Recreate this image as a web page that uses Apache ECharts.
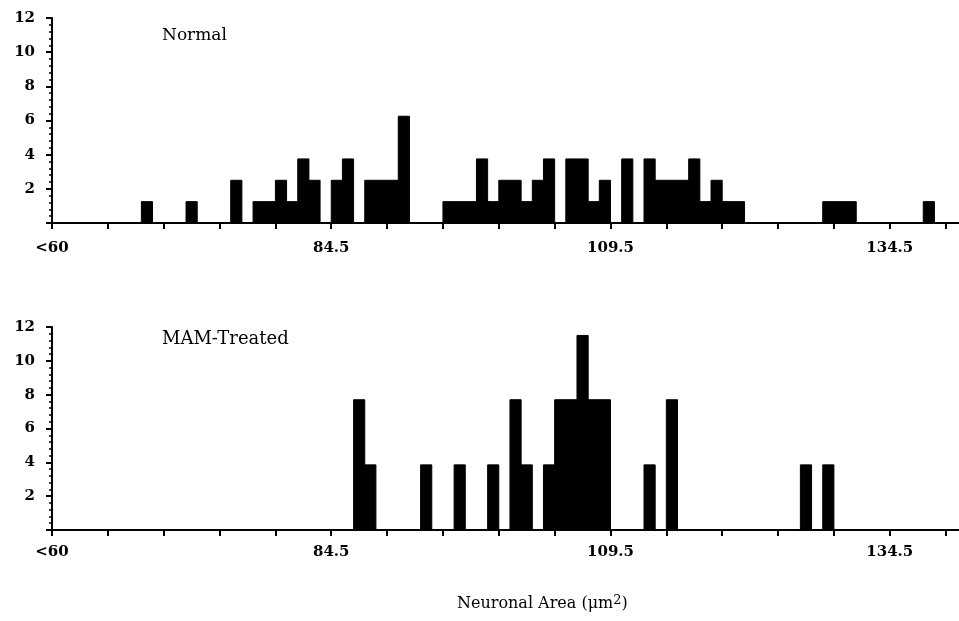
<!DOCTYPE html>
<html>
<head>
<meta charset="utf-8">
<script src="https://cdn.jsdelivr.net/npm/echarts@6/dist/echarts.min.js"></script>
<style>
  html, body { margin: 0; padding: 0; background: #fff; }
  #chart { width: 959px; height: 621px; }
</style>
</head>
<body>
<div id="chart"></div>
<script>
// bin centres (µm², 1 µm² wide bins) and percent of neurons per bin
const normalBins = [68, 72, 76, 78, 79, 80, 81, 82, 83, 85, 86, 88, 89, 90, 91,
  95, 96, 97, 98, 99, 100, 101, 102, 103, 104, 106, 107, 108, 109, 111,
  113, 114, 115, 116, 117, 118, 119, 120, 121, 129, 130, 131, 138];
const normalPct = [1.25, 1.25, 2.5, 1.25, 1.25, 2.5, 1.25, 3.75, 2.5, 2.5, 3.75, 2.5, 2.5, 2.5, 6.25,
  1.25, 1.25, 1.25, 3.75, 1.25, 2.5, 2.5, 1.25, 2.5, 3.75, 3.75, 3.75, 1.25, 2.5, 3.75,
  3.75, 2.5, 2.5, 2.5, 3.75, 1.25, 2.5, 1.25, 1.25, 1.25, 1.25, 1.25, 1.25];

const mamBins = [87, 88, 93, 96, 99, 101, 102, 104, 105, 106, 107, 108, 109, 113, 115, 127, 129];
const mamPct = [7.7, 3.85, 3.85, 3.85, 3.85, 7.7, 3.85, 3.85, 7.7, 7.7, 11.5, 7.7, 7.7, 3.85, 7.7, 3.85, 3.85];

const xTicks = [59.5, 64.5, 69.5, 74.5, 79.5, 84.5, 89.5, 94.5, 99.5, 104.5,
  109.5, 114.5, 119.5, 124.5, 129.5, 134.5, 139.5];
const xLabelValues = [59.5, 84.5, 109.5, 134.5];
const xLabelTexts = ["<60", "84.5", "109.5", "134.5"];
const BIN_WIDTH = 1;

const FONT = "DejaVu Serif";

const chart = echarts.init(document.getElementById("chart"));

function renderBin(params, api) {
  const x = api.value(0);
  const y = api.value(1);
  const topLeft = api.coord([x - BIN_WIDTH / 2, y]);
  const bottomRight = api.coord([x + BIN_WIDTH / 2, 0]);
  return {
    type: "rect",
    shape: {
      x: topLeft[0],
      y: topLeft[1],
      width: bottomRight[0] - topLeft[0],
      height: bottomRight[1] - topLeft[1],
    },
    style: { fill: "#000", stroke: "#000", lineWidth: 1 },
  };
}

const makeX = (gridIndex, labelMargin) => ({
  type: "value",
  gridIndex: gridIndex,
  min: 59.5,
  max: 140.7,
  splitLine: { show: false },
  axisLine: { show: true, lineStyle: { color: "#000", width: 2 } },
  axisTick: {
    show: true,
    customValues: xTicks,
    length: 6,
    lineStyle: { color: "#000", width: 2 },
  },
  axisLabel: {
    customValues: xLabelValues,
    formatter: (v) => xLabelTexts[xLabelValues.indexOf(v)],
    margin: labelMargin,
    color: "#000",
    fontFamily: FONT,
    fontWeight: "bold",
    fontSize: 15,
  },
});

const makeY = (gridIndex) => ({
  type: "value",
  gridIndex: gridIndex,
  min: 0,
  max: 12,
  interval: 2,
  splitLine: { show: false },
  axisLine: { show: true, lineStyle: { color: "#000", width: 2 } },
  axisTick: { show: true, length: 6, lineStyle: { color: "#000", width: 2 } },
  minorTick: { show: true, splitNumber: 5, length: 3, lineStyle: { color: "#000", width: 1.5 } },
  minorSplitLine: { show: false },
  axisLabel: {
    formatter: (v) => (v === 0 ? "" : String(v)),
    margin: 17,
    color: "#000",
    fontFamily: FONT,
    fontWeight: "bold",
    fontSize: 15,
  },
});

const option = {
  animation: false,
  backgroundColor: "#fff",
  title: [
    {
      text: "Normal",
      left: 162,
      top: 27,
      padding: 0,
      textStyle: { fontFamily: FONT, fontWeight: "normal", fontSize: 17, color: "#000" },
    },
    {
      text: "MAM-Treated",
      left: 162,
      top: 330,
      padding: 0,
      textStyle: { fontFamily: FONT, fontWeight: "normal", fontSize: 18, color: "#000" },
    },
    {
      text: "Neuronal Area (μm{sup|2})",
      left: 457,
      top: 594,
      padding: 0,
      textStyle: {
        fontFamily: FONT,
        fontWeight: "normal",
        fontSize: 16,
        color: "#000",
        rich: {
          sup: { fontFamily: FONT, fontSize: 13, color: "#000", verticalAlign: "top", padding: [0, 0, 7, 0] },
        },
      },
    },
  ],
  grid: [
    { left: 52, right: 0, top: 18, height: 205 },
    { left: 52, right: 0, top: 327, height: 203 },
  ],
  xAxis: [makeX(0, 18), makeX(1, 15)],
  yAxis: [makeY(0), makeY(1)],
  series: [
    {
      type: "custom",
      xAxisIndex: 0,
      yAxisIndex: 0,
      renderItem: renderBin,
      data: normalBins.map((b, i) => [b, normalPct[i]]),
    },
    {
      type: "custom",
      xAxisIndex: 1,
      yAxisIndex: 1,
      renderItem: renderBin,
      data: mamBins.map((b, i) => [b, mamPct[i]]),
    },
  ],
};

chart.setOption(option);
</script>
</body>
</html>
